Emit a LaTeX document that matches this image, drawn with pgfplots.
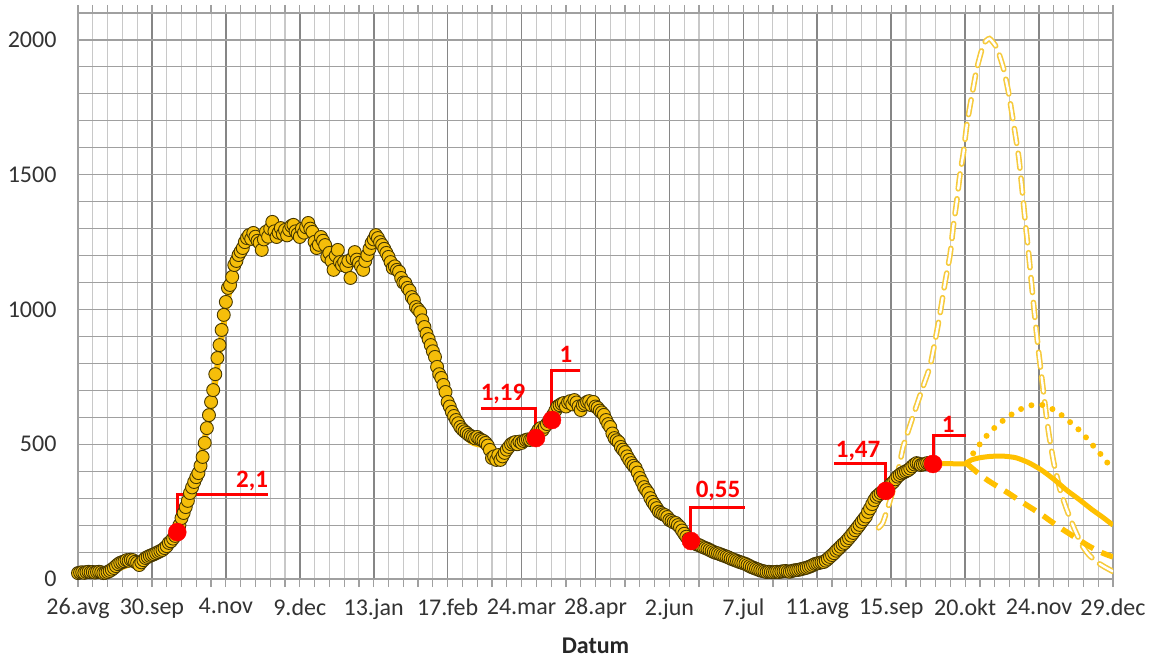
\documentclass[border=0pt]{standalone}
\usepackage{fontspec}
\setmainfont{Carlito}
\usepackage{pgfplots}
\pgfplotsset{compat=1.18}
\usetikzlibrary{calc}

\definecolor{gold}{RGB}{255,192,0}
\definecolor{dotfill}{RGB}{245,190,10}
\definecolor{dotedge}{RGB}{70,55,0}
\definecolor{hollow}{RGB}{246,202,60}
\definecolor{gridmaj}{RGB}{134,134,134}
\definecolor{gridmin}{RGB}{200,200,200}
\definecolor{gridh}{RGB}{160,160,160}

\begin{document}
\begin{tikzpicture}
\begin{axis}[
    scale only axis,
    width=1035pt, height=566pt,
    xmin=0, xmax=490, ymin=0, ymax=2100,
    xtick={0,35,...,490},
    xticklabels={26.avg,30.sep,4.nov,9.dec,13.jan,17.feb,24.mar,28.apr,2.jun,7.jul,11.avg,15.sep,20.okt,24.nov,29.dec},
    minor x tick num=4,
    ytick={0,500,...,2000},
    minor y tick num=4,
    grid=both,
    major x grid style={draw=gridmaj, line width=1.6pt},
    minor x grid style={draw=gridmin, line width=1.1pt},
    major y grid style={draw=gridh, line width=1.3pt},
    minor y grid style={draw=gridh, line width=1.1pt},
    axis line style={draw=gridh, line width=1.3pt},
    tick align=outside,
    major tick length=8pt, minor tick length=8pt,
    xtick style={draw=gridh, line width=1.2pt},
    ytick style={draw=none},
    tick label style={font=\fontsize{24}{27}\selectfont, text=black!80},
    xticklabel style={yshift=-8pt},
    yticklabel style={xshift=-10pt},
    /pgf/number format/assume math mode=true,
    /pgf/number format/1000 sep={},
    xlabel={\textbf{Datum}},
    xlabel style={font=\fontsize{24}{27}\selectfont, text=black!85, yshift=-12pt},
]
\coordinate (SW) at (rel axis cs:0,0);
\coordinate (NE) at (rel axis cs:1,1);

% model fit under the dots
\addplot[gold, line width=6pt, smooth, tension=0.4] coordinates {
(0,20)(14,25)(21,45)(28,65)(35,88)(42,125)(47,174)(52,270)(56,380)(60,520)(64,680)
(68,900)(72,1080)(76,1190)(82,1260)(90,1285)(100,1300)(110,1290)(118,1240)(125,1190)
(131,1175)(137,1210)(141,1255)(146,1225)(152,1150)(158,1060)(164,950)(170,800)(175,670)
(180,575)(186,510)(192,495)(198,470)(204,480)(210,505)(216,525)(222,570)(228,630)
(235,655)(242,655)(248,625)(254,530)(260,460)(266,380)(272,290)(278,235)(284,200)
(290,145)(300,105)(310,75)(320,42)(330,28)(340,30)(350,55)(356,80)(362,125)(368,180)
(374,245)(380,312)(386,358)(392,395)(398,425)(405,428)
};

% projections
\addplot[hollow, line width=1.6pt, double=white, double distance=2.4pt, line cap=round,
  dash pattern=on 15pt off 10pt, smooth, tension=0.3] coordinates {
(379,190)(381,208)(383.5,267)(387.7,379)(390.7,491)(395.5,608)(399.4,699)(403.4,790)
(405.7,880)(408.1,984)(410.5,1101)(412.9,1205)(414.4,1309)(416,1400)(417.6,1504)
(419.2,1582)(420.8,1686)(423.1,1790)(425.5,1893)(428.7,1984)(431.5,2005)(435,1971)
(438.2,1893)(440.6,1803)(443,1686)(445.3,1569)(446.9,1452)(448.5,1322)(450.1,1205)
(451.7,1075)(453.2,958)(454.8,842)(456.4,738)(458,634)(459.6,540)(462,430)(465,330)
(468,260)(471.5,190)(475,130)(478,95)(482,65)(486,45)(490,28)
};
\addplot[gold, line width=6pt, line cap=round, dash pattern=on 0pt off 11pt, smooth] coordinates {
(421,432)(425,480)(430,530)(435,569)(440,600)(445,625)(450,642)(455,648)(460,636)
(465,612)(470,580)(475,545)(480,500)(485,455)(490,404)
};
\addplot[gold, line width=5.5pt, dash pattern=on 14pt off 9pt, smooth] coordinates {
(421,427)(425,400)(430,370)(435,345)(441,316)(446,290)(451,265)(456,240)(461,212)
(466,185)(472,155)(478,125)(484,100)(490,82)
};
\addplot[gold, line width=5pt, smooth, tension=0.4] coordinates {
(405,427)(412,428)(420,427)(421,432)(423,442)(427,450)(432,455)(438,456)(444,450)
(450,432)(456,405)(462,370)(468,330)(474,295)(480,258)(485,230)(490,200)
};

% daily values
\addplot[only marks, mark=*, mark size=6.5pt,
  mark options={fill=dotfill, draw=dotedge, line width=0.9pt}] coordinates {
(0,22)(1,24)(2,25)(3,23)(4,26)(5,27)(6,25)(7,26)(8,24)(9,26)
(10,27)(11,25)(12,22)(13,23)(14,26)(15,30)(16,35)(17,41)(18,48)(19,55)
(20,60)(21,63)(22,66)(23,70)(24,68)(25,72)(26,70)(27,64)(28,60)(29,52)
(30,62)(31,70)(32,78)(33,82)(34,86)(35,89)(36,92)(37,96)(38,100)(39,104)
(40,108)(41,115)(42,122)(43,134)(44,140)(45,150)(46,160)(47,174)(48,200)(49,226)
(50,245)(51,267)(52,290)(53,319)(54,340)(55,360)(56,378)(57,393)(58,420)(59,453)
(60,505)(61,560)(62,608)(63,657)(64,701)(65,760)(66,820)(67,868)(68,924)(69,980)
(70,1028)(71,1080)(72,1091)(73,1121)(74,1165)(75,1180)(76,1202)(77,1215)(78,1228)(79,1250)
(80,1265)(81,1276)(82,1262)(83,1284)(84,1270)(85,1255)(86,1247)(87,1221)(88,1260)(89,1288)
(90,1270)(91,1300)(92,1325)(93,1290)(94,1269)(95,1285)(96,1302)(97,1280)(98,1295)(99,1275)
(100,1295)(101,1310)(102,1314)(103,1290)(104,1280)(105,1269)(106,1300)(107,1285)(108,1305)(109,1321)
(110,1300)(111,1288)(112,1251)(113,1228)(114,1240)(115,1269)(116,1255)(117,1239)(118,1195)(119,1210)
(120,1180)(121,1147)(122,1200)(123,1221)(124,1176)(125,1165)(126,1176)(127,1160)(128,1180)(129,1117)
(130,1190)(131,1213)(132,1185)(133,1173)(134,1160)(135,1147)(136,1180)(137,1202)(138,1225)(139,1247)
(140,1260)(141,1276)(142,1265)(143,1250)(144,1239)(145,1225)(146,1210)(147,1195)(148,1176)(149,1154)
(150,1160)(151,1147)(152,1140)(153,1117)(154,1100)(155,1098)(156,1080)(157,1070)(158,1046)(159,1035)
(160,1009)(161,1000)(162,990)(163,960)(164,935)(165,910)(166,890)(167,868)(168,845)(169,824)
(170,787)(171,760)(172,746)(173,720)(174,694)(175,657)(176,640)(177,620)(178,605)(179,590)
(180,578)(181,564)(182,555)(183,548)(184,542)(185,535)(186,530)(187,527)(188,522)(189,527)
(190,520)(191,516)(192,512)(193,505)(194,495)(195,479)(196,449)(197,455)(198,442)(199,460)
(200,442)(201,455)(202,468)(203,480)(204,490)(205,500)(206,505)(207,508)(208,500)(209,510)
(210,505)(211,512)(212,516)(213,518)(214,516)(215,520)(216,523)(217,540)(218,553)(219,560)
(220,553)(221,565)(222,575)(223,585)(224,590)(225,610)(226,625)(227,640)(228,645)(229,650)
(230,653)(231,640)(232,655)(233,660)(234,648)(235,664)(236,655)(237,640)(238,627)(239,645)
(240,650)(241,657)(242,660)(243,645)(244,657)(245,640)(246,635)(247,625)(248,618)(249,609)
(250,590)(251,575)(252,564)(253,540)(254,523)(255,515)(256,508)(257,490)(258,480)(259,471)
(260,455)(261,442)(262,430)(263,420)(264,412)(265,395)(266,375)(267,360)(268,341)(269,330)
(270,319)(271,300)(272,286)(273,275)(274,263)(275,250)(276,245)(277,240)(278,237)(279,230)
(280,219)(281,215)(282,210)(283,208)(284,200)(285,192)(286,180)(287,168)(288,157)(289,148)
(290,141)(291,138)(292,132)(293,128)(294,126)(295,122)(296,118)(297,115)(298,112)(299,108)
(300,104)(301,100)(302,97)(303,95)(304,92)(305,89)(306,86)(307,83)(308,80)(309,76)
(310,73)(311,70)(312,67)(313,64)(314,61)(315,59)(316,56)(317,52)(318,48)(319,44)
(320,41)(321,38)(322,35)(323,32)(324,30)(325,28)(326,26)(327,27)(328,26)(329,25)
(330,26)(331,27)(332,26)(333,28)(334,29)(335,30)(336,28)(337,27)(338,30)(339,32)
(340,33)(341,34)(342,36)(343,38)(344,40)(345,42)(346,45)(347,48)(348,52)(349,56)
(350,58)(351,60)(352,62)(353,63)(354,68)(355,75)(356,82)(357,89)(358,96)(359,105)
(360,112)(361,120)(362,128)(363,134)(364,143)(365,152)(366,161)(367,171)(368,181)(369,191)
(370,201)(371,212)(372,222)(373,232)(374,249)(375,262)(376,278)(377,293)(378,305)(379,312)
(380,319)(381,324)(382,327)(383,335)(384,345)(385,353)(386,360)(387,370)(388,380)(389,386)
(390,392)(391,396)(392,400)(393,404)(394,410)(395,418)(396,425)(397,430)(398,428)(399,423)
(400,425)(401,427)(402,430)(403,428)(404,426)(405,427)
};

% R markers
\addplot[red, line width=3pt] coordinates {(47,174)(47,312)(90,312)};
\addplot[red, line width=3pt] coordinates {(191,631)(216.8,631)(216.8,523)};
\addplot[red, line width=3pt] coordinates {(224.4,590)(224.4,772)(237.7,772)};
\addplot[red, line width=3pt] coordinates {(290.2,141)(290.2,267)(315.8,267)};
\addplot[red, line width=3pt] coordinates {(358,430)(382.5,430)(382.5,327)};
\addplot[red, line width=3pt] coordinates {(404.8,427)(404.8,531)(420.4,531)};
\addplot[only marks, mark=*, mark size=9pt, red] coordinates {
(47,174)(216.8,523)(224.4,590)(290.2,141)(382.5,327)(404.8,427)};

\begin{scope}[every node/.style={text=red, font=\bfseries\fontsize{25}{28}\selectfont}]
\node at (axis cs:82.4,362) {2,1};
\node at (axis cs:201.2,685) {1,19};
\node at (axis cs:231,833) {1};
\node at (axis cs:303,325) {0,55};
\node at (axis cs:369.3,473) {1,47};
\node at (axis cs:412,573) {1};
\end{scope}
\end{axis}
\pgfresetboundingbox
\path[use as bounding box] ($(SW)+(-78pt,-83pt)$) rectangle ($(NE)+(36pt,13pt)$);
\end{tikzpicture}
\end{document}
